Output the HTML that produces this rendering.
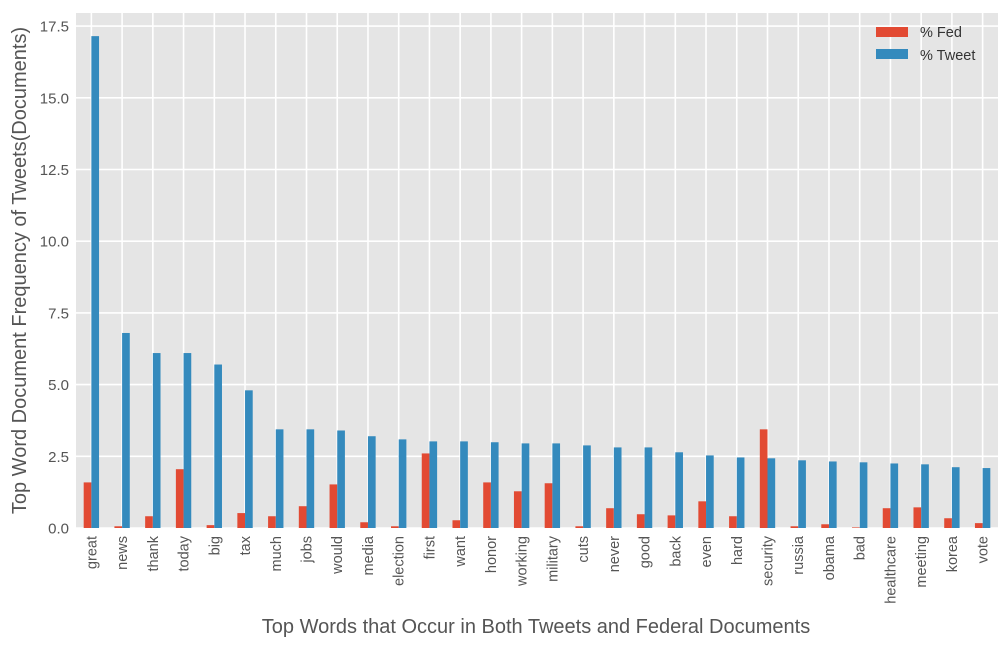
<!DOCTYPE html>
<html><head><meta charset="utf-8"><style>
body{margin:0;background:#fff;}
svg{display:block;font-family:"Liberation Sans",Arial,sans-serif;}
</style></head><body>
<svg id="chart" width="1008" height="648"></svg>
<script>
const categories=["great","news","thank","today","big","tax","much","jobs","would","media","election","first","want","honor","working","military","cuts","never","good","back","even","hard","security","russia","obama","bad","healthcare","meeting","korea","vote"];
const fedValues=[1.59,0.06,0.41,2.05,0.1,0.52,0.41,0.76,1.52,0.2,0.06,2.6,0.27,1.59,1.28,1.56,0.06,0.69,0.48,0.44,0.93,0.41,3.44,0.06,0.13,0.02,0.69,0.72,0.34,0.17];
const tweetValues=[17.15,6.8,6.1,6.1,5.7,4.8,3.44,3.44,3.4,3.2,3.09,3.02,3.02,2.99,2.95,2.95,2.88,2.81,2.81,2.64,2.53,2.46,2.43,2.36,2.32,2.29,2.25,2.22,2.12,2.09];
const yTicks=[0,2.5,5,7.5,10,12.5,15,17.5];
const yTickLabels=["0.0","2.5","5.0","7.5","10.0","12.5","15.0","17.5"];

const NS="http://www.w3.org/2000/svg";
const svg=document.getElementById('chart');
const L=76,R=998,T=13,B=528;
const yMax=(B-T)/28.68;
const y=v=>B-v/yMax*(B-T);
const step=(R-L)/categories.length;
const xc=i=>L+(i+0.5)*step;
const bw=step*0.25;
function mk(tag,attrs,parent){const e=document.createElementNS(NS,tag);for(const k in attrs)e.setAttribute(k,attrs[k]);(parent||svg).appendChild(e);return e;}

const bg=mk('rect',{x:L,y:T,width:R-L,height:B-T,fill:'#e5e5e5'});



yTicks.forEach((t,i)=>{
  const g=mk('line',{x1:L,x2:R,y1:y(t),y2:y(t),stroke:'#fff','stroke-width':1.6});
  
  
  const tx=mk('text',{x:L-7,y:y(t)+5.5,'text-anchor':'end','font-size':15,fill:'#555'});
  tx.textContent=yTickLabels[i];
  
  
});
categories.forEach((c,i)=>{
  const g=mk('line',{x1:xc(i),x2:xc(i),y1:T,y2:B,stroke:'#fff','stroke-width':1.6});
  
  
});
categories.forEach((c,i)=>{
  const f=mk('rect',{x:xc(i)-bw,y:y(fedValues[i]),width:bw,height:B-y(fedValues[i]),fill:'#e24a33'});
  
  
  const t=mk('rect',{x:xc(i),y:y(tweetValues[i]),width:bw,height:B-y(tweetValues[i]),fill:'#348abd'});
  
  
  const lb=mk('text',{x:0,y:0,'text-anchor':'end','font-size':14.5,fill:'#555',transform:`translate(${xc(i)+5},${B+8}) rotate(-90)`});
  lb.textContent=c;
  
  
});
const xt=mk('text',{x:536,y:633,'text-anchor':'middle','font-size':20,fill:'#555'});
xt.textContent='Top Words that Occur in Both Tweets and Federal Documents';


const yt=mk('text',{x:0,y:0,'text-anchor':'middle','font-size':20,fill:'#555',transform:`translate(26,${(T+B)/2}) rotate(-90)`});
yt.textContent='Top Word Document Frequency of Tweets(Documents)';



const lg=mk('g',{});


const p1=mk('rect',{x:876,y:27,width:32,height:10,fill:'#e24a33'},lg);


const t1=mk('text',{x:920,y:37,'font-size':14.5,fill:'#333'},lg);t1.textContent='% Fed';


const p2=mk('rect',{x:876,y:49,width:32,height:10,fill:'#348abd'},lg);


const t2=mk('text',{x:920,y:60,'font-size':14.5,fill:'#333'},lg);t2.textContent='% Tweet';


</script>
</body></html>
